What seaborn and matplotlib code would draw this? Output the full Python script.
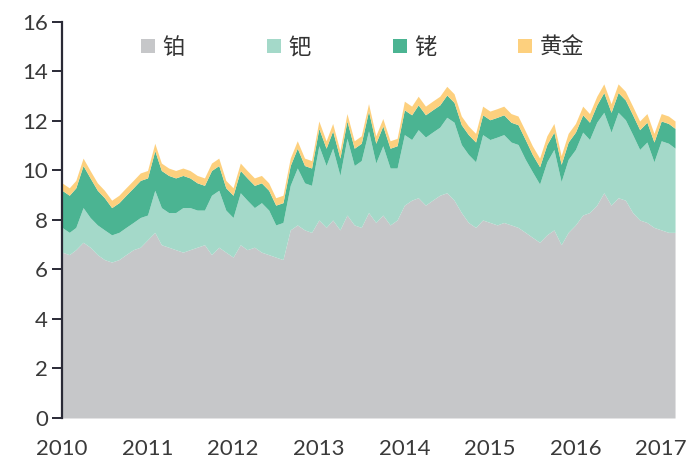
import pandas as pd
import numpy as np
import matplotlib
matplotlib.use("Agg")
import matplotlib.pyplot as plt
import matplotlib.dates as mdates
import seaborn as sns

# ── Data (monthly, layer thickness) ───────────────────────────────────────────
dates = pd.date_range("2010-01-01", "2017-03-01", freq="MS")

platinum = [
    6.7, 6.6, 6.8, 7.1, 6.9, 6.6, 6.4, 6.3, 6.4, 6.6, 6.8, 6.9,
    7.2, 7.5, 7.0, 6.9, 6.8, 6.7, 6.8, 6.9, 7.0, 6.6, 6.9, 6.7,
    6.5, 7.0, 6.8, 6.9, 6.7, 6.6, 6.5, 6.4, 7.6, 7.8, 7.6, 7.5,
    8.0, 7.7, 8.0, 7.6, 8.2, 7.8, 7.7, 8.3, 7.9, 8.2, 7.8, 8.0,
    8.6, 8.8, 8.9, 8.6, 8.8, 9.0, 9.1, 8.8, 8.3, 7.9, 7.7, 8.0,
    7.9, 7.8, 7.9, 7.8, 7.7, 7.5, 7.3, 7.1, 7.4, 7.6, 7.0, 7.5,
    7.8, 8.2, 8.3, 8.6, 9.1, 8.6, 8.9, 8.8, 8.3, 8.0, 7.9, 7.7,
    7.6, 7.5, 7.5,
]
palladium = [
    1.0, 0.9, 0.9, 1.4, 1.2, 1.2, 1.2, 1.1, 1.1, 1.1, 1.1, 1.2,
    1.0, 1.7, 1.5, 1.4, 1.5, 1.8, 1.7, 1.5, 1.4, 2.4, 2.3, 1.7,
    1.6, 2.1, 2.0, 1.6, 2.0, 1.8, 1.3, 1.5, 1.8, 2.3, 1.9, 1.9,
    3.0, 2.5, 2.9, 2.2, 3.1, 2.4, 2.7, 3.3, 2.4, 2.8, 2.3, 2.1,
    2.85, 2.45, 2.75, 2.75, 2.75, 2.75, 3.05, 3.15, 2.75, 2.75, 2.65, 3.45,
    3.35, 3.55, 3.55, 3.35, 3.35, 2.95, 2.65, 2.35, 2.95, 3.25, 2.55, 2.95,
    3.05, 3.35, 2.95, 3.35, 3.25, 2.95, 3.45, 3.25, 3.15, 2.85, 3.25, 2.65,
    3.6, 3.6, 3.4,
]
rhodium = [
    1.5, 1.5, 1.6, 1.7, 1.6, 1.4, 1.3, 1.1, 1.2, 1.3, 1.4, 1.5,
    1.5, 1.6, 1.5, 1.5, 1.4, 1.3, 1.2, 1.1, 1.0, 1.0, 1.0, 0.9,
    0.9, 0.9, 0.9, 0.9, 0.8, 0.8, 0.8, 0.8, 0.8, 0.8, 0.7, 0.7,
    0.7, 0.7, 0.7, 0.7, 0.7, 0.7, 0.7, 0.8, 0.8, 0.8, 0.8, 0.9,
    1.0, 1.0, 1.0, 0.9, 0.9, 0.9, 0.9, 0.8, 0.8, 0.8, 0.8, 0.8,
    0.8, 0.8, 0.8, 0.8, 0.8, 0.8, 0.7, 0.7, 0.7, 0.7, 0.7, 0.7,
    0.7, 0.7, 0.7, 0.7, 0.8, 0.8, 0.8, 0.8, 0.8, 0.8, 0.8, 0.8,
    0.8, 0.8, 0.8,
]
gold = [
    0.3, 0.3, 0.3, 0.3, 0.3, 0.3, 0.3, 0.3, 0.3, 0.3, 0.3, 0.3,
    0.3, 0.3, 0.3, 0.3, 0.3, 0.3, 0.3, 0.3, 0.3, 0.3, 0.3, 0.3,
    0.3, 0.3, 0.3, 0.3, 0.3, 0.3, 0.3, 0.3, 0.3, 0.3, 0.3, 0.3,
    0.3, 0.3, 0.3, 0.3, 0.3, 0.3, 0.3, 0.3, 0.3, 0.3, 0.3, 0.3,
    0.35, 0.35, 0.35, 0.35, 0.35, 0.35, 0.35, 0.35, 0.35, 0.35, 0.35, 0.35,
    0.35, 0.35, 0.35, 0.35, 0.35, 0.35, 0.35, 0.35, 0.35, 0.35, 0.35, 0.35,
    0.35, 0.35, 0.35, 0.35, 0.35, 0.35, 0.35, 0.35, 0.35, 0.35, 0.35, 0.35,
    0.3, 0.3, 0.3,
]

labels = ["铂", "钯", "铑", "黄金"]
colors = ["#c6c7c9", "#a4d9c9", "#4bb492", "#fdd07e"]

df = pd.DataFrame({"date": dates, "铂": platinum, "钯": palladium,
                   "铑": rhodium, "黄金": gold})

# ── Plot ──────────────────────────────────────────────────────────────────────
sns.set_theme(style="white")
plt.rcParams["font.family"] = ["Lato", "Noto Sans CJK SC", "DejaVu Sans"]

fig = plt.figure(figsize=(6.91, 4.61), dpi=100)
ax = fig.add_axes([0.0897, 0.0933, 0.8872, 0.859])

ax.stackplot(df["date"], [df[c] for c in labels], labels=labels,
             colors=colors, linewidth=0)

ax.set_ylim(0, 16)
ax.set_yticks(range(0, 17, 2))
ax.set_xlim(dates[0], dates[-1])
ax.xaxis.set_major_locator(mdates.YearLocator())
ax.xaxis.set_major_formatter(mdates.DateFormatter("%Y"))

sns.despine(ax=ax, top=True, right=True, bottom=True)
ax.spines["left"].set_color("#2a2a36")
ax.spines["left"].set_linewidth(1.6)
ax.tick_params(axis="y", left=True, length=7, width=1.4, color="#2a2a36",
               labelsize=16, labelcolor="#3a3a3a", pad=3)
ax.tick_params(axis="x", bottom=False, labelsize=16, labelcolor="#3a3a3a", pad=9)

ax.legend(loc="upper left", bbox_to_anchor=(0.097, 1.013), ncol=4, frameon=False,
          prop={"size": 16}, handlelength=0.63, handleheight=0.63,
          columnspacing=3.7, handletextpad=0.32, labelcolor="#333333")

plt.savefig("out.png", dpi=100)
